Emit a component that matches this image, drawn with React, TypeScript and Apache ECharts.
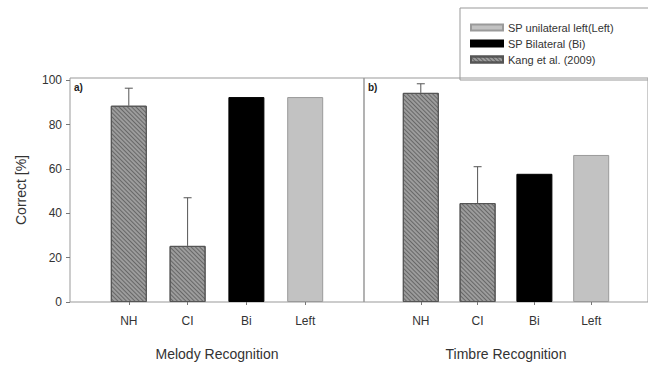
import React, { useEffect, useRef } from "react";
import * as echarts from "echarts";

const categories = ["NH", "CI", "Bi", "Left"];
const yTicks = [0, 20, 40, 60, 80, 100];
const seriesNames = ["SP unilateral left(Left)", "SP Bilateral (Bi)", "Kang et al. (2009)"];
// Melody recognition (panel a)
const melodyValues = [88.5, 25.3, 92.4, 92.4];
const melodyErrTop = [96.4, 47.0, null, null];
// Timbre recognition (panel b)
const timbreValues = [94.3, 44.6, 57.8, 66.3];
const timbreErrTop = [98.4, 61.0, null, null];
const panelTitles = ["Melody Recognition", "Timbre Recognition"];
const panelLetters = ["a)", "b)"];

const FONT = "Liberation Sans, Arial, sans-serif";

export default function App() {
  const ref = useRef<HTMLDivElement>(null);
  useEffect(() => {
    if (!ref.current) return;
    const chart = echarts.init(ref.current, undefined, { renderer: "svg" });

    const hatch = {
      color: "#9c9c9c",
      borderColor: "#555",
      borderWidth: 1,
      decal: {
        symbol: "rect",
        symbolSize: 1,
        color: "rgba(60,60,60,0.55)",
        dashArrayX: [1, 0],
        dashArrayY: [1, 1.2],
        rotation: Math.PI / 4,
      },
    };
    const black = { color: "#000", borderColor: "#000", borderWidth: 1 };
    const light = { color: "#c2c2c2", borderColor: "#9a9a9a", borderWidth: 1 };

    const grids = [
      { left: 70, top: 78, width: 294, height: 224 },
      { left: 364, top: 78, width: 288, height: 224 },
    ];

    const panels = [
      { values: melodyValues, err: melodyErrTop },
      { values: timbreValues, err: timbreErrTop },
    ];

    const series: any[] = [];
    panels.forEach((p, gi) => {
      series.push({
        name: seriesNames[2],
        type: "bar",
        xAxisIndex: gi,
        yAxisIndex: gi,
        barWidth: 36,
        itemStyle: hatch,
        data: [
          [1, p.values[0]],
          [2, p.values[1]],
        ],
      });
      series.push({
        name: seriesNames[1],
        type: "bar",
        xAxisIndex: gi,
        yAxisIndex: gi,
        barWidth: 36,
        barGap: "-100%",
        itemStyle: black,
        data: [[3, p.values[2]]],
      });
      series.push({
        name: seriesNames[0],
        type: "bar",
        xAxisIndex: gi,
        yAxisIndex: gi,
        barWidth: 36,
        barGap: "-100%",
        itemStyle: light,
        data: [[4, p.values[3]]],
      });
      series.push({
        type: "custom",
        xAxisIndex: gi,
        yAxisIndex: gi,
        silent: true,
        z: 5,
        data: p.values
          .map((v, i) => [i + 1, v, p.err[i]])
          .filter((d) => d[2] != null),
        renderItem: (params: any, api: any) => {
          const x = api.value(0);
          const base = api.coord([x, api.value(1)]);
          const top = api.coord([x, api.value(2)]);
          const style = { stroke: "#555", lineWidth: 1 };
          return {
            type: "group",
            children: [
              { type: "line", shape: { x1: base[0], y1: base[1], x2: top[0], y2: top[1] }, style },
              { type: "line", shape: { x1: top[0] - 4, y1: top[1], x2: top[0] + 4, y2: top[1] }, style },
            ],
          };
        },
      });
    });

    const option: any = {
      animation: false,
      backgroundColor: "#fff",
      textStyle: { fontFamily: FONT },
      legend: {
        orient: "vertical",
        left: 460,
        top: 8,
        padding: [14, 60, 15, 10],
        itemGap: 5,
        itemWidth: 32,
        itemHeight: 6,
        borderColor: "#999",
        borderWidth: 1,
        data: seriesNames,
        icon: "rect",
        textStyle: { fontSize: 11, color: "#333", fontFamily: FONT },
      },
      grid: grids.map((g) => ({
        ...g,
        show: true,
        borderColor: "#999",
        borderWidth: 1,
        backgroundColor: "transparent",
      })),
      xAxis: grids.map((g, gi) => ({
        type: "value",
        gridIndex: gi,
        min: 0,
        max: 5,
        interval: 1,
        splitLine: { show: false },
        axisLine: { show: false },
        axisTick: { show: true, length: 3, customValues: [1, 2, 3, 4], lineStyle: { color: "#777" } },
        axisLabel: {
          customValues: [1, 2, 3, 4],
          formatter: (v: number) => categories[v - 1] ?? "",
          fontSize: 12,
          color: "#333",
          margin: 13,
          fontFamily: FONT,
        },
        name: panelTitles[gi],
        nameLocation: "middle",
        nameGap: 45,
        nameTextStyle: { fontSize: 14, color: "#333", fontFamily: FONT },
      })),
      yAxis: grids.map((g, gi) => ({
        type: "value",
        gridIndex: gi,
        min: 0,
        max: 101,
        interval: 20,
        splitLine: { show: false },
        axisLine: { show: false },
        axisTick: {
          show: gi === 0,
          length: 4,
          customValues: yTicks,
          lineStyle: { color: "#777" },
        },
        axisLabel: {
          show: gi === 0,
          customValues: yTicks,
          fontSize: 12,
          color: "#333",
          margin: 8,
          fontFamily: FONT,
        },
        name: gi === 0 ? "Correct [%]" : "",
        nameLocation: "middle",
        nameGap: 42,
        nameTextStyle: { fontSize: 14, color: "#333", fontFamily: FONT },
      })),
      graphic: grids.map((g, gi) => ({
        type: "text",
        left: g.left + 4,
        top: g.top + 4,
        style: {
          text: panelLetters[gi],
          font: `bold 10px ${FONT}`,
          fill: "#222",
        },
      })),
      series,
    };

    chart.setOption(option);
    return () => chart.dispose();
  }, []);

  return (
    <div
      ref={ref}
      style={{ position: "fixed", left: 0, top: 0, width: 648, height: 373 }}
    />
  );
}
